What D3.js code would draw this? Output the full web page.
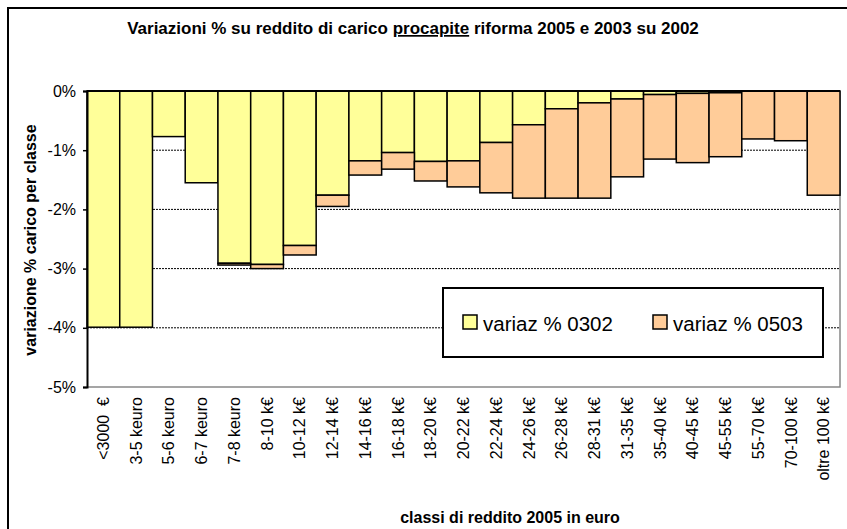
<!DOCTYPE html>
<html>
<head>
<meta charset="utf-8">
<script src="https://cdn.jsdelivr.net/npm/d3@7"></script>
<style>
  body { margin: 0; background: #fff; }
  text { font-family: "Liberation Sans", Arial, sans-serif; }
</style>
</head>
<body>
<div id="chart"></div>
<script>
/* CONSTANTS AND GLOBALS */
const width = 847,
  height = 529,
  margin = { top: 91, bottom: 142, left: 87, right: 7 };

// categories (classi di reddito)
const classi = ["<3000  €", "3-5 keuro", "5-6 keuro", "6-7 keuro", "7-8 keuro", "8-10 k€",
  "10-12 k€", "12-14 k€", "14-16 k€", "16-18 k€", "18-20 k€", "20-22 k€", "22-24 k€",
  "24-26 k€", "26-28 k€", "28-31 k€", "31-35 k€", "35-40 k€", "40-45 k€", "45-55 k€",
  "55-70 k€", "70-100 k€", "oltre 100 k€"];

// variazione % 2003 su 2002
const variaz0302 = [-3.99, -3.99, -0.77, -1.55, -2.91, -2.93, -2.61, -1.76, -1.18, -1.04,
  -1.19, -1.18, -0.87, -0.57, -0.30, -0.20, -0.135, -0.06, -0.04, -0.03, 0, 0, 0];

// variazione % 2005 su 2003 (stacked under the first one)
const variaz0503 = [0, 0, 0, 0, -0.03, -0.07, -0.16, -0.19, -0.24, -0.28,
  -0.33, -0.44, -0.85, -1.24, -1.51, -1.61, -1.315, -1.09, -1.17, -1.08, -0.81, -0.84, -1.76];

const seriesNames = ["variaz % 0302", "variaz % 0503"];
const yTicks = [0, -1, -2, -3, -4, -5];
const colors = ["#FFFF99", "#FFCC99"];

/* build table for d3.stack */
const table = classi.map((c, i) => ({
  classe: c,
  "variaz % 0302": variaz0302[i],
  "variaz % 0503": variaz0503[i]
}));

const svg = d3.select("#chart").append("svg")
  .attr("width", width)
  .attr("height", height);

// outer frame (goes off the picture on right/bottom)
svg.append("rect")
  .attr("x", 8).attr("y", 8)
  .attr("width", width + 20).attr("height", height + 20)
  .attr("fill", "#fff")
  .attr("stroke", "#000")
  .attr("stroke-width", 2);

/* SCALES */
const x = d3.scaleBand()
  .domain(classi)
  .range([margin.left, width - margin.right])
  .padding(0);

const y = d3.scaleLinear()
  .domain([-5, 0])
  .range([height - margin.bottom, margin.top]);

// gridlines
svg.append("g")
  .selectAll("line")
  .data(yTicks.filter(d => d != 0 && d != -5))
  .join("line")
  .attr("x1", x.range()[0]).attr("x2", x.range()[1])
  .attr("y1", d => y(d)).attr("y2", d => y(d))
  .attr("stroke", "#000")
  .attr("stroke-width", 1)
  .attr("stroke-dasharray", "2,1");

// plot area border (grey, right and bottom)
svg.append("path")
  .attr("d", `M${x.range()[0]},${y(-5)}H${x.range()[1]}V${y(0)}`)
  .attr("fill", "none")
  .attr("stroke", "#888")
  .attr("stroke-width", 1.5);

/* STACK */
const stack = d3.stack()
  .keys(seriesNames)
  .offset(d3.stackOffsetDiverging);
const stacked = stack(table);

svg.append("g")
  .selectAll("g")
  .data(stacked)
  .join("g")
  .attr("fill", (d, i) => colors[i])
  .selectAll("rect")
  .data(d => d)
  .join("rect")
  .attr("x", d => x(d.data.classe))
  .attr("width", x.bandwidth())
  .attr("y", d => y(Math.max(d[0], d[1])))
  .attr("height", d => Math.abs(y(d[0]) - y(d[1])))
  .attr("stroke", "#000")
  .attr("stroke-width", 1.5);

/* AXES */
const yAxis = d3.axisLeft(y)
  .tickValues(yTicks)
  .tickSize(4)
  .tickPadding(7)
  .tickFormat(d => d + "%");

svg.append("g")
  .attr("transform", `translate(${margin.left},0)`)
  .call(yAxis)
  .call(g => g.select(".domain").attr("stroke-width", 2))
  .call(g => g.selectAll(".tick line").attr("stroke-width", 1.5))
  .call(g => g.selectAll("text").attr("font-size", 16).attr("fill", "#000")
    .attr("font-family", "Liberation Sans, Arial, sans-serif"));

// category axis sits at 0 (top), labels at the bottom
svg.append("line")
  .attr("x1", x.range()[0]).attr("x2", x.range()[1])
  .attr("y1", y(0)).attr("y2", y(0))
  .attr("stroke", "#000")
  .attr("stroke-width", 2);

svg.append("g")
  .selectAll("text")
  .data(classi)
  .join("text")
  .attr("transform", d => `translate(${x(d) + x.bandwidth() / 2},${y(-5) + 10}) rotate(-90)`)
  .attr("text-anchor", "end")
  .attr("dy", "0.35em")
  .attr("font-size", 16)
  .style("white-space", "pre")
  .text(d => d);

/* TITLES */
const title = svg.append("text")
  .attr("x", 413)
  .attr("y", 34)
  .attr("text-anchor", "middle")
  .attr("font-size", 17)
  .attr("font-weight", "bold");
title.append("tspan").text("Variazioni % su reddito di carico ");
title.append("tspan").attr("text-decoration", "underline").text("procapite");
title.append("tspan").text(" riforma 2005 e 2003 su 2002");

svg.append("text")
  .attr("transform", "translate(36,240) rotate(-90)")
  .attr("text-anchor", "middle")
  .attr("font-size", 16)
  .attr("font-weight", "bold")
  .text("variazione % carico per classe");

svg.append("text")
  .attr("x", 510)
  .attr("y", 523)
  .attr("text-anchor", "middle")
  .attr("font-size", 16)
  .attr("font-weight", "bold")
  .text("classi di reddito 2005 in euro");

/* LEGEND */
const legend = svg.append("g").attr("transform", "translate(443,288)");
legend.append("rect")
  .attr("width", 380).attr("height", 69)
  .attr("fill", "#fff")
  .attr("stroke", "#000")
  .attr("stroke-width", 2);

const legItem = legend.selectAll("g")
  .data(seriesNames)
  .join("g")
  .attr("transform", (d, i) => `translate(${i == 0 ? 20 : 210},27)`);

legItem.append("rect")
  .attr("width", 14).attr("height", 14)
  .attr("fill", (d, i) => colors[i])
  .attr("stroke", "#000")
  .attr("stroke-width", 1.5);

legItem.append("text")
  .attr("x", 20)
  .attr("y", 16)
  .attr("font-size", 20.5)
  .text(d => d);
</script>
</body>
</html>
